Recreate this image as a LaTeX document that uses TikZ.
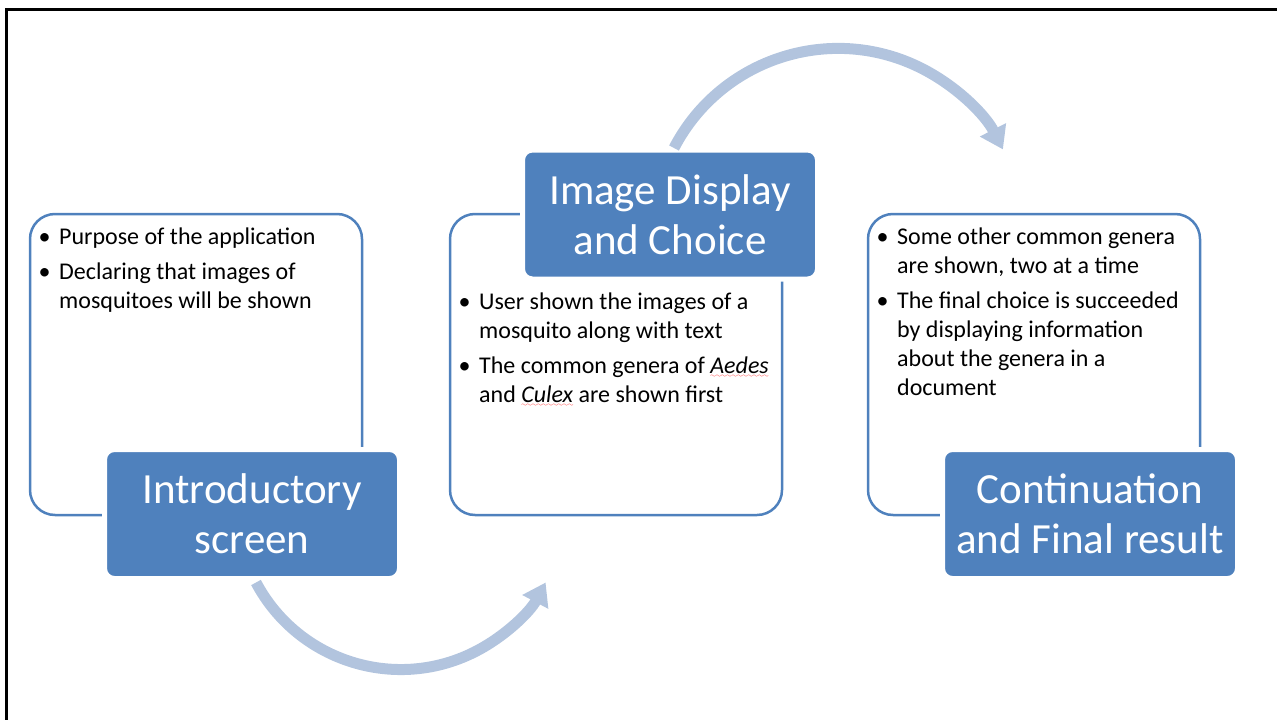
\documentclass[tikz,border=0pt]{standalone}
\usepackage{fontspec}
\setmainfont{Carlito}
\usetikzlibrary{arrows.meta}
\definecolor{boxblue}{RGB}{79,129,189}
\definecolor{arrowblue}{RGB}{178,196,222}
\font\sixly=lasy6
\newcommand\spellwave[1]{\setbox0\hbox{#1}\rlap{\lower3.5pt\hbox to\wd0{\color{red}\sixly\xleaders\hbox{\char58}\hfil}}\box0\relax}
\newcommand\bul{\makebox[29pt]{\textbullet}}

\begin{document}
\begin{tikzpicture}[x=1pt, y=-1pt,
	info box/.style={draw=boxblue, line width=2.5pt, rounded corners=25pt, minimum width=332pt, minimum height=301pt, inner sep=0pt, outer sep=0pt},
	title box/.style={fill=boxblue, draw=white, line width=5pt, rounded corners=10pt, minimum width=295pt, minimum height=129pt, outer sep=0pt, text=white, align=center, font=\fontsize{43}{50}\selectfont},
	info text/.style={anchor=north west, inner sep=0pt, font=\fontsize{24}{29}\selectfont},
	flow arrow/.style={arrowblue, line width=11pt, -{Triangle[width=28pt, length=22pt]}}]
	%\draw[help lines] (0,0) grid (1277,720);
	\useasboundingbox (0,0) rectangle (1277,720);
	\draw[line width=3pt] (6,720) -- (6,9) -- (1277,9);
	% outline boxes
	\node[info box] (intro box) at (196,364.5) {};
	\node[info box] (choice box) at (616,364.5) {};
	\node[info box] (final box) at (1034,364.5) {};
	% title boxes
	\node[title box] (intro) at (252,514) {Introductory\\screen};
	\node[title box] (choice) at (670,214.5) {Image Display\\and Choice};
	\node[title box] (final) at (1090,514) {Continuation\\and Final result};
	% arrows
	\draw[flow arrow] ([shift={(4,4)}]intro.south) arc[start angle=152, end angle=28, radius=164];
	\draw[flow arrow] ([shift={(4,-2)}]choice.north) arc[start angle=207.5, end angle=333, radius=185];
	% bullet texts
	\node[info text] (intro text) at ([shift={(0,10)}]intro box.north west) {%
		\begin{tabular}{@{}l@{}l@{}}
			\bul & Purpose of the application\\[6pt]
			\bul & Declaring that images of\\
			     & mosquitoes will be shown
		\end{tabular}};
	\node[info text] (choice text) at ([shift={(0,75)}]choice box.north west) {%
		\begin{tabular}{@{}l@{}l@{}}
			\bul & User shown the images of a\\
			     & mosquito along with text\\[6pt]
			\bul & The common genera of \spellwave{\textit{Aedes}}\\
			     & and \spellwave{\textit{Culex}} are shown first
		\end{tabular}};
	\node[info text] (final text) at ([shift={(0,10)}]final box.north west) {%
		\begin{tabular}{@{}l@{}l@{}}
			\bul & Some other common genera\\
			     & are shown, two at a time\\[6pt]
			\bul & The final choice is succeeded\\
			     & by displaying information\\
			     & about the genera in a\\
			     & document
		\end{tabular}};
\end{tikzpicture}
\end{document}
